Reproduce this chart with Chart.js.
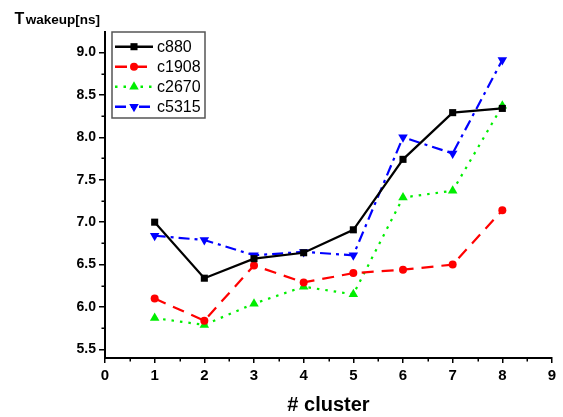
<!DOCTYPE html>
<html>
<head>
<meta charset="utf-8">
<script src="https://cdn.jsdelivr.net/npm/chart.js@4/dist/chart.umd.min.js"></script>
<style>
  html, body { margin: 0; padding: 0; background: #fff; }
  #wrap { position: relative; width: 563px; height: 417px; }
</style>
</head>
<body>
<div id="wrap"><canvas id="c" width="563" height="417"></canvas></div>
<script>
// ---- data ----
const clusters = [1, 2, 3, 4, 5, 6, 7, 8];
const c880  = [7.00, 6.34, 6.57, 6.64, 6.91, 7.74, 8.29, 8.34];
const c1908 = [6.10, 5.84, 6.49, 6.29, 6.40, 6.44, 6.50, 7.14];
const c2670 = [5.87, 5.79, 6.04, 6.24, 6.15, 7.29, 7.37, 8.37];
const c5315 = [6.84, 6.79, 6.61, 6.65, 6.61, 8.00, 7.81, 8.91];
const seriesNames = ['c880', 'c1908', 'c2670', 'c5315'];
const xTicks = [0, 0.5, 1, 1.5, 2, 2.5, 3, 3.5, 4, 4.5, 5, 5.5, 6, 6.5, 7, 7.5, 8, 8.5, 9];
const yTicks = [5.5, 5.75, 6.0, 6.25, 6.5, 6.75, 7.0, 7.25, 7.5, 7.75, 8.0, 8.25, 8.5, 8.75, 9.0];
const xTitle = '# cluster';
const yTitleMain = 'T';
const yTitleSub = 'wakeup[ns]';

const FONT = 'Arial, "Liberation Sans", Helvetica, sans-serif';
const pts = arr => clusters.map((x, i) => ({ x: x, y: arr[i] }));
const isMajorX = v => Number.isInteger(v);
const isMajorY = v => Math.abs(v * 2 - Math.round(v * 2)) < 1e-9;

const styles = [
  { color: '#000000', dash: [], point: 'rect', radius: 5, rot: 0 },
  { color: '#ff0000', dash: [12, 8], point: 'circle', radius: 4, rot: 0 },
  { color: '#00ee00', dash: [2.5, 6], point: 'triangle', radius: 5.5, rot: 0 },
  { color: '#0000ff', dash: [11, 5, 3, 5], point: 'triangle', radius: 5.5, rot: 180 }
];
const values = [c880, c1908, c2670, c5315];

const datasets = values.map((v, i) => ({
  label: seriesNames[i],
  data: pts(v),
  borderColor: styles[i].color,
  backgroundColor: styles[i].color,
  borderWidth: 2.2,
  borderDash: styles[i].dash,
  pointStyle: styles[i].point,
  pointRadius: styles[i].radius,
  pointRotation: styles[i].rot,
  pointBorderWidth: 0,
  pointBackgroundColor: styles[i].color,
  pointBorderColor: styles[i].color,
  tension: 0,
  fill: false
}));

const decorPlugin = {
  id: 'decor',
  afterDraw(chart) {
    const ctx = chart.ctx;
    const xs = chart.scales.x, ys = chart.scales.y;
    const area = chart.chartArea;
    ctx.save();
    // minor ticks (shorter than major ones)
    ctx.strokeStyle = '#000';
    ctx.lineWidth = 1.5;
    ctx.beginPath();
    xTicks.filter(v => !isMajorX(v)).forEach(v => {
      const px = Math.round(xs.getPixelForValue(v)) + 0.25;
      ctx.moveTo(px, area.bottom);
      ctx.lineTo(px, area.bottom + 3.5);
    });
    yTicks.filter(v => !isMajorY(v)).forEach(v => {
      const py = Math.round(ys.getPixelForValue(v)) + 0.25;
      ctx.moveTo(area.left, py);
      ctx.lineTo(area.left - 3.5, py);
    });
    ctx.stroke();

    // y-axis title
    ctx.fillStyle = '#000';
    ctx.textBaseline = 'alphabetic';
    ctx.textAlign = 'left';
    ctx.font = 'bold 16px ' + FONT;
    ctx.fillText(yTitleMain, 14.5, 23.5);
    const w = ctx.measureText(yTitleMain).width;
    ctx.font = 'bold 13.5px ' + FONT;
    ctx.fillText(yTitleSub, 14.5 + w + 1.5, 23.5);

    // legend box
    const bx = 112, by = 32, bw = 93, bh = 86;
    ctx.fillStyle = '#fff';
    ctx.fillRect(bx, by, bw, bh);
    ctx.strokeStyle = '#555';
    ctx.lineWidth = 1.5;
    ctx.strokeRect(bx, by, bw, bh);
    chart.data.datasets.forEach((ds, i) => {
      const y = 46.7 + i * 20;
      ctx.strokeStyle = ds.borderColor;
      ctx.lineWidth = 2.5;
      ctx.setLineDash(ds.borderDash);
      ctx.beginPath();
      ctx.moveTo(115, y);
      ctx.lineTo(153, y);
      ctx.stroke();
      ctx.setLineDash([]);
      ctx.fillStyle = ds.pointBackgroundColor;
      Chart.helpers.drawPoint(ctx, {
        pointStyle: ds.pointStyle,
        rotation: ds.pointRotation,
        radius: ds.pointRadius,
        borderWidth: 0
      }, 134, y);
      ctx.fillStyle = '#000';
      ctx.font = '16px ' + FONT;
      ctx.textBaseline = 'middle';
      ctx.fillText(ds.label, 157, y + 0.5);
    });
    ctx.restore();
  }
};

new Chart(document.getElementById('c'), {
  type: 'line',
  data: { datasets: datasets },
  options: {
    responsive: false,
    animation: false,
    devicePixelRatio: 1,
    layout: { padding: { left: 0, top: 32, right: 11, bottom: 0 } },
    plugins: { legend: { display: false }, tooltip: { enabled: false }, title: { display: false } },
    scales: {
      x: {
        type: 'linear',
        min: 0, max: 9,
        afterFit(s) { s.height = 59; },
        afterBuildTicks(s) { s.ticks = xTicks.map(v => ({ value: v })); },
        border: { display: true, color: '#000', width: 2 },
        grid: {
          drawOnChartArea: false, drawTicks: true, tickLength: 5, lineWidth: 1.5,
          color: ctx => (ctx.tick && isMajorX(ctx.tick.value) ? '#000' : 'rgba(0,0,0,0)')
        },
        ticks: {
          autoSkip: false, maxRotation: 0, padding: 4, color: '#000',
          font: { family: FONT, size: 15, weight: 'bold' },
          callback: v => (isMajorX(v) ? String(v) : '')
        },
        title: {
          display: true, text: xTitle, color: '#000',
          font: { family: FONT, size: 20, weight: 'bold' },
          padding: { top: 0, bottom: 0 }
        }
      },
      y: {
        type: 'linear',
        min: 5.4, max: 9.24,
        afterFit(s) { s.width = 105; },
        afterBuildTicks(s) { s.ticks = yTicks.map(v => ({ value: v })); },
        border: { display: true, color: '#000', width: 2 },
        grid: {
          drawOnChartArea: false, drawTicks: true, tickLength: 6, lineWidth: 1.5,
          color: ctx => (ctx.tick && isMajorY(ctx.tick.value) ? '#000' : 'rgba(0,0,0,0)')
        },
        ticks: {
          autoSkip: false, padding: 3, color: '#000',
          font: { family: FONT, size: 14, weight: 'bold' },
          callback: v => (isMajorY(v) ? v.toFixed(1) : '')
        }
      }
    }
  },
  plugins: [decorPlugin]
});
</script>
</body>
</html>
